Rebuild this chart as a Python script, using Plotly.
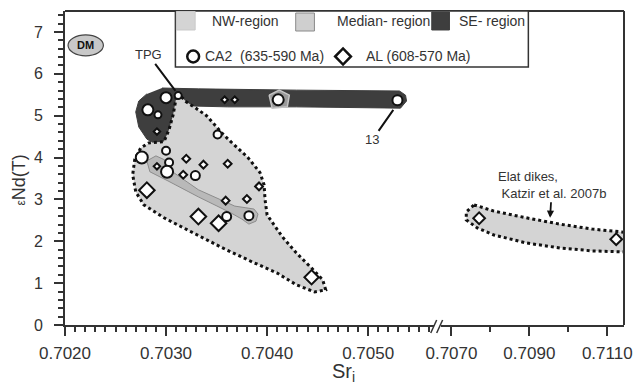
import plotly.graph_objects as go

# ---------------- data ----------------
# CA2 (635-590 Ma) circles
ca2_sr = [0.70300, 0.70312, 0.70282, 0.70292, 0.70351, 0.70300, 0.70276, 0.70303,
          0.70301, 0.70329, 0.70360, 0.70382, 0.70411, 0.70529]
ca2_nd = [5.43, 5.48, 5.14, 5.02, 4.55, 4.16, 4.00, 3.88, 3.66, 3.57, 2.59, 2.61, 5.38, 5.37]
ca2_size = [11, 7, 11, 7, 8, 8, 12, 8, 12, 9, 9, 9, 11, 10]

# AL (608-570 Ma) diamonds, low-Sr part
al_sr = [0.70291, 0.70358, 0.70368, 0.70320, 0.70337, 0.70361, 0.70317, 0.70291,
         0.70281, 0.70392, 0.70359, 0.70380, 0.70332, 0.70352, 0.70444]
al_nd = [4.62, 5.38, 5.38, 3.97, 3.83, 3.85, 3.59, 3.79, 3.22, 3.31, 2.97, 3.01, 2.59, 2.43, 1.14]
al_size = [5, 5, 5, 6, 6, 6, 6, 5, 12, 6, 6, 6, 12, 12, 11]

# AL diamonds, Elat dikes (high-Sr part)
al2_sr = [0.70771, 0.71123]
al2_nd = [2.55, 2.05]
al2_size = [9, 9]

# NW-region field
nw_sr = [0.70311, 0.70320, 0.70330, 0.70340, 0.70347, 0.70355, 0.70364, 0.70381, 0.70393,
         0.70397, 0.70398, 0.70400, 0.70415, 0.70429, 0.70444, 0.70455, 0.70458, 0.70447,
         0.70429, 0.70410, 0.70385, 0.70356, 0.70327, 0.70298, 0.70278, 0.70270, 0.70267,
         0.70269, 0.70275, 0.70283, 0.70298, 0.70303, 0.70307, 0.70310]
nw_nd = [5.55, 5.33, 5.17, 5.00, 4.81, 4.59, 4.38, 4.00, 3.64, 3.35, 2.99, 2.63, 2.11, 1.72,
         1.36, 1.08, 0.84, 0.79, 0.96, 1.24, 1.51, 1.84, 2.20, 2.56, 2.87, 3.18, 3.59, 3.95,
         4.23, 4.35, 4.38, 4.67, 5.02, 5.38]

# SE-region field
se_sr = [0.70296, 0.70332, 0.70429, 0.70531, 0.70537, 0.70538, 0.70532, 0.70429, 0.70361,
         0.70327, 0.70312, 0.70300, 0.70291, 0.70281, 0.70273, 0.70270, 0.70273, 0.70281]
se_nd = [5.66, 5.64, 5.61, 5.59, 5.49, 5.35, 5.18, 5.21, 5.21, 5.23, 4.78, 4.30, 4.30, 4.44,
         4.73, 5.09, 5.35, 5.52]

# Median-region fields
med_sr = [0.70281, 0.70290, 0.70299, 0.70304, 0.70332, 0.70368, 0.70379, 0.70387, 0.70391,
          0.70389, 0.70382, 0.70375, 0.70364, 0.70332, 0.70302, 0.70293, 0.70284]
med_nd = [3.92, 4.04, 3.94, 3.70, 3.23, 2.84, 2.80, 2.77, 2.65, 2.48, 2.41, 2.53, 2.68, 3.06,
          3.44, 3.56, 3.66]
med2_sr = [0.70402, 0.70412, 0.70422, 0.70420, 0.70405]
med2_nd = [5.49, 5.61, 5.49, 5.21, 5.18]

# Elat dikes field (Katzir et al. 2007b)
elat_sr = [0.70758, 0.70809, 0.70892, 0.70978, 0.71062, 0.71163, 0.71163, 0.71062, 0.70978,
           0.70892, 0.70809, 0.70766, 0.70738, 0.70738]
elat_nd = [2.87, 2.72, 2.56, 2.41, 2.29, 2.20, 1.74, 1.77, 1.84, 1.96, 2.15, 2.32, 2.51, 2.70]

# axis settings
x1_range = [0.7020, 0.705649]
x2_range = [0.706722, 0.711430]
y_range = [0, 7.5]

FONT = "Liberation Sans, Arial, sans-serif"
TXT = "#333333"
LIGHT = "#d4d4d4"
DARK = "#3e3e3e"

fig = go.Figure()

fig.add_trace(go.Scatter(x=se_sr, y=se_nd, fill="toself", fillcolor=DARK, mode="lines",
                         line=dict(color=DARK, width=1), hoverinfo="skip", showlegend=False))
fig.add_trace(go.Scatter(x=nw_sr + [nw_sr[0]], y=nw_nd + [nw_nd[0]], fill="toself",
                         fillcolor=LIGHT, mode="lines",
                         line=dict(color="#111111", width=3, dash="dot"),
                         hoverinfo="skip", showlegend=False))
fig.add_trace(go.Scatter(x=med_sr + [med_sr[0]], y=med_nd + [med_nd[0]], fill="toself",
                         fillcolor="#b9b9b9", mode="lines",
                         line=dict(color="#8c8c8c", width=1), hoverinfo="skip", showlegend=False))
fig.add_trace(go.Scatter(x=med2_sr + [med2_sr[0]], y=med2_nd + [med2_nd[0]], fill="toself",
                         fillcolor="#9a9a9a", mode="lines",
                         line=dict(color="#c4c4c4", width=1.5), hoverinfo="skip", showlegend=False))
fig.add_trace(go.Scatter(x=elat_sr + [elat_sr[0]], y=elat_nd + [elat_nd[0]], fill="toself",
                         fillcolor=LIGHT, mode="lines", xaxis="x2", yaxis="y",
                         line=dict(color="#111111", width=3, dash="dot"),
                         hoverinfo="skip", showlegend=False))

fig.add_trace(go.Scatter(x=ca2_sr, y=ca2_nd, mode="markers", showlegend=False,
                         marker=dict(symbol="circle", size=ca2_size, color="#ffffff", opacity=1,
                                     line=dict(color="#111111", width=2))))
fig.add_trace(go.Scatter(x=al_sr, y=al_nd, mode="markers", showlegend=False,
                         marker=dict(symbol="diamond", size=al_size, color="#ffffff", opacity=1,
                                     line=dict(color="#111111", width=2))))
fig.add_trace(go.Scatter(x=al2_sr, y=al2_nd, mode="markers", showlegend=False,
                         xaxis="x2", yaxis="y", cliponaxis=False,
                         marker=dict(symbol="diamond", size=al2_size, color="#ffffff", opacity=1,
                                     line=dict(color="#111111", width=2))))

tickfont = dict(family=FONT, size=17, color=TXT)
common_x = dict(showgrid=False, zeroline=False, showline=True, linecolor="#333333",
                linewidth=2, ticks="outside", ticklen=9, tickwidth=1.5, tickcolor="#333333",
                tickfont=tickfont, tickformat=".4f", anchor="y", ticklabelstandoff=3)

fig.update_layout(
    width=642, height=389,
    margin=dict(l=65, r=10, t=11, b=64),
    paper_bgcolor="white", plot_bgcolor="white",
    font=dict(family=FONT, color=TXT),
    xaxis=dict(domain=[0, 0.6596], range=x1_range, tickmode="linear", tick0=0.702, dtick=0.001,
               minor=dict(dtick=0.0001, tick0=0.702, ticks="outside", ticklen=5,
                          tickwidth=1.5, tickcolor="#333333", showgrid=False),
               **common_x),
    xaxis2=dict(domain=[0.6720, 1], range=x2_range, tickmode="linear", tick0=0.707, dtick=0.002,
                minor=dict(dtick=0.001, tick0=0.707, ticks="outside", ticklen=5,
                           tickwidth=1.5, tickcolor="#333333", showgrid=False),
                **common_x),
    yaxis=dict(range=y_range, tickmode="linear", tick0=0, dtick=1, showgrid=False,
               zeroline=False, showline=True, linecolor="#333333", linewidth=2,
               ticks="outside", ticklen=9, tickwidth=1.5, tickcolor="#333333",
               tickfont=dict(family=FONT, size=16, color=TXT), anchor="x",
               ticklabelstandoff=8,
               minor=dict(dtick=0.2, tick0=0, ticks="outside", ticklen=5, tickwidth=1.5,
                          tickcolor="#333333", showgrid=False)),
)

shapes = []
# frame: top and right edges
shapes.append(dict(type="line", xref="paper", yref="paper", x0=0, x1=1, y0=1, y1=1,
                   line=dict(color="#333333", width=2)))
shapes.append(dict(type="line", xref="paper", yref="paper", x0=1, x1=1, y0=0, y1=1,
                   line=dict(color="#333333", width=2)))
# axis break marks
for xa, xb in [(0.6543, 0.6649), (0.6649, 0.6755)]:
    shapes.append(dict(type="line", xref="paper", yref="paper", x0=xa, x1=xb,
                       y0=-0.0255, y1=0.0159, line=dict(color="#333333", width=1.5)))
# DM ellipse
shapes.append(dict(type="circle", xref="x", yref="y", x0=0.70203, x1=0.70238, y0=6.43, y1=6.93,
                   fillcolor="#c8c8c8", line=dict(color="#444444", width=1.2)))
# legend box
shapes.append(dict(type="rect", xref="paper", yref="paper", x0=0.1975, x1=0.8289, y0=0.8217,
                   y1=1.0, fillcolor="white", line=dict(color="#333333", width=1.5)))
shapes.append(dict(type="rect", xref="paper", yref="paper", x0=0.1993, x1=0.2328, y0=0.9395,
                   y1=0.9984, fillcolor=LIGHT, line=dict(color="#c8c8c8", width=1)))
shapes.append(dict(type="rect", xref="paper", yref="paper", x0=0.4127, x1=0.4462, y0=0.9363,
                   y1=0.9936, fillcolor="#cfcfcf", line=dict(color="#8a8a8a", width=1)))
shapes.append(dict(type="rect", xref="paper", yref="paper", x0=0.6561, x1=0.6878, y0=0.9395,
                   y1=0.9968, fillcolor=DARK, line=dict(color=DARK, width=1)))
shapes.append(dict(type="circle", xref="paper", yref="paper", x0=0.2187, x1=0.2399, y0=0.8360,
                   y1=0.8742, fillcolor="white", line=dict(color="#111111", width=2.5)))
shapes.append(dict(type="path", xref="paper", yref="paper",
                   path="M 0.4833,0.8551 L 0.4974,0.8806 L 0.5115,0.8551 L 0.4974,0.8296 Z",
                   fillcolor="white", line=dict(color="#111111", width=2.5)))
fig.update_layout(shapes=shapes)

lf = dict(family=FONT, size=14, color=TXT)
af = dict(family=FONT, size=13, color=TXT)
ann = [
    dict(xref="paper", yref="paper", x=0.2593, y=0.9666, text="NW-region", showarrow=False,
         xanchor="left", yanchor="middle", font=lf),
    dict(xref="paper", yref="paper", x=0.4832, y=0.9666, text="Median- region", showarrow=False,
         xanchor="left", yanchor="middle", font=lf),
    dict(xref="paper", yref="paper", x=0.7019, y=0.9666, text="SE- region", showarrow=False,
         xanchor="left", yanchor="middle", font=lf),
    dict(xref="paper", yref="paper", x=0.2469, y=0.8551, text="CA2  (635-590 Ma)",
         showarrow=False, xanchor="left", yanchor="middle", font=lf),
    dict(xref="paper", yref="paper", x=0.5344, y=0.8551, text="AL (608-570 Ma)",
         showarrow=False, xanchor="left", yanchor="middle", font=lf),
    dict(xref="x", yref="y", x=0.70220, y=6.68, text="<b>DM</b>", showarrow=False,
         font=dict(family=FONT, size=11, color="#111111")),
    dict(xref="x", yref="y", x=0.703093, y=5.59, text="TPG", showarrow=True, arrowhead=0,
         arrowwidth=2, arrowcolor="#111111", ax=-27, ay=-36, font=af),
    dict(xref="x", yref="y", x=0.705249, y=5.14, text="13", showarrow=True, arrowhead=0,
         arrowwidth=2, arrowcolor="#111111", ax=-21, ay=30, font=af),
    dict(xref="x2", yref="y", x=0.709532, y=2.56, text="Elat dikes,<br> Katzir et al. 2007b",
         showarrow=True, arrowhead=2, arrowsize=0.8, arrowwidth=1.8, arrowcolor="#111111",
         ax=2, ay=-33, align="left", font=af),
    dict(xref="paper", yref="paper", x=0.499, y=-0.150, text="Sr<sub>i</sub>", showarrow=False,
         xanchor="center", yanchor="middle", font=dict(family=FONT, size=20, color=TXT)),
    dict(xref="paper", yref="paper", x=-0.0829, y=0.462,
         text="<span style='font-size:12px'>ε</span>Nd(T)", showarrow=False, textangle=-90,
         xanchor="center", yanchor="middle", font=dict(family=FONT, size=18, color=TXT)),
]
fig.update_layout(annotations=ann)

fig.write_html("out.html")
